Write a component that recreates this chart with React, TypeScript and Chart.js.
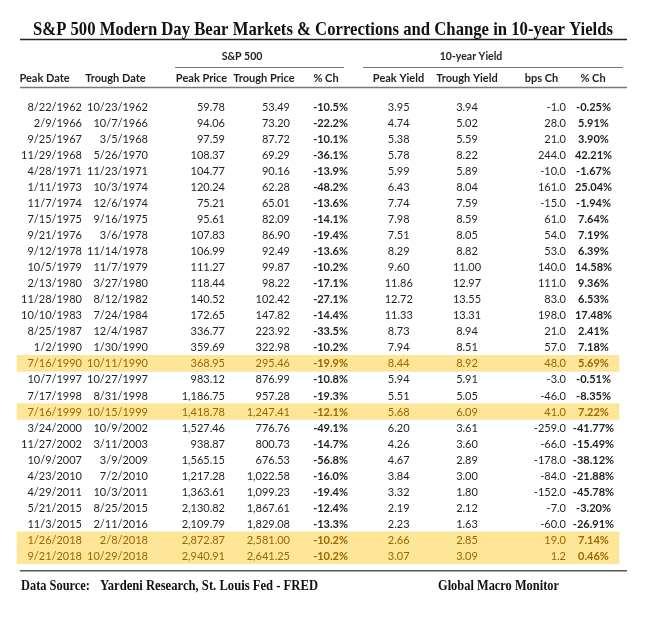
import React, { useEffect, useRef } from "react";
import { Chart, registerables } from "chart.js";

Chart.register(...registerables);

// ---------------- DATA ----------------
const title = "S&P 500 Modern Day Bear Markets & Corrections and Change in 10-year Yields";
const groupLabels = ["S&P 500", "10-year Yield"];
const columnHeaders = ["Peak Date", "Trough Date", "Peak Price", "Trough Price", "% Ch", "Peak Yield", "Trough Yield", "bps Ch", "% Ch"];

const peakDates = [
  "8/22/1962", "2/9/1966", "9/25/1967", "11/29/1968", "4/28/1971", "1/11/1973", "11/7/1974", "7/15/1975",
  "9/21/1976", "9/12/1978", "10/5/1979", "2/13/1980", "11/28/1980", "10/10/1983", "8/25/1987", "1/2/1990",
  "7/16/1990", "10/7/1997", "7/17/1998", "7/16/1999", "3/24/2000", "11/27/2002", "10/9/2007", "4/23/2010",
  "4/29/2011", "5/21/2015", "11/3/2015", "1/26/2018", "9/21/2018",
];
const troughDates = [
  "10/23/1962", "10/7/1966", "3/5/1968", "5/26/1970", "11/23/1971", "10/3/1974", "12/6/1974", "9/16/1975",
  "3/6/1978", "11/14/1978", "11/7/1979", "3/27/1980", "8/12/1982", "7/24/1984", "12/4/1987", "1/30/1990",
  "10/11/1990", "10/27/1997", "8/31/1998", "10/15/1999", "10/9/2002", "3/11/2003", "3/9/2009", "7/2/2010",
  "10/3/2011", "8/25/2015", "2/11/2016", "2/8/2018", "10/29/2018",
];
const peakPrices = [
  59.78, 94.06, 97.59, 108.37, 104.77, 120.24, 75.21, 95.61, 107.83, 106.99, 111.27, 118.44, 140.52, 172.65,
  336.77, 359.69, 368.95, 983.12, 1186.75, 1418.78, 1527.46, 938.87, 1565.15, 1217.28, 1363.61, 2130.82,
  2109.79, 2872.87, 2940.91,
];
const troughPrices = [
  53.49, 73.2, 87.72, 69.29, 90.16, 62.28, 65.01, 82.09, 86.9, 92.49, 99.87, 98.22, 102.42, 147.82, 223.92,
  322.98, 295.46, 876.99, 957.28, 1247.41, 776.76, 800.73, 676.53, 1022.58, 1099.23, 1867.61, 1829.08,
  2581.0, 2641.25,
];
const spPctChange = [
  -10.5, -22.2, -10.1, -36.1, -13.9, -48.2, -13.6, -14.1, -19.4, -13.6, -10.2, -17.1, -27.1, -14.4, -33.5,
  -10.2, -19.9, -10.8, -19.3, -12.1, -49.1, -14.7, -56.8, -16.0, -19.4, -12.4, -13.3, -10.2, -10.2,
];
const peakYields = [
  3.95, 4.74, 5.38, 5.78, 5.99, 6.43, 7.74, 7.98, 7.51, 8.29, 9.6, 11.86, 12.72, 11.33, 8.73, 7.94, 8.44,
  5.94, 5.51, 5.68, 6.2, 4.26, 4.67, 3.84, 3.32, 2.19, 2.23, 2.66, 3.07,
];
const troughYields = [
  3.94, 5.02, 5.59, 8.22, 5.89, 8.04, 7.59, 8.59, 8.05, 8.82, 11.0, 12.97, 13.55, 13.31, 8.94, 8.51, 8.92,
  5.91, 5.05, 6.09, 3.61, 3.6, 2.89, 3.0, 1.8, 2.12, 1.63, 2.85, 3.09,
];
const bpsChange = [
  -1.0, 28.0, 21.0, 244.0, -10.0, 161.0, -15.0, 61.0, 54.0, 53.0, 140.0, 111.0, 83.0, 198.0, 21.0, 57.0,
  48.0, -3.0, -46.0, 41.0, -259.0, -66.0, -178.0, -84.0, -152.0, -7.0, -60.0, 19.0, 1.2,
];
const yieldPctChange = [
  -0.25, 5.91, 3.9, 42.21, -1.67, 25.04, -1.94, 7.64, 7.19, 6.39, 14.58, 9.36, 6.53, 17.48, 2.41, 7.18,
  5.69, -0.51, -8.35, 7.22, -41.77, -15.49, -38.12, -21.88, -45.78, -3.2, -26.91, 7.14, 0.46,
];
const highlighted = [
  false, false, false, false, false, false, false, false, false, false, false, false, false, false, false,
  false, true, false, false, true, false, false, false, false, false, false, false, true, true,
];
const footerLabel = "Data Source:";
const footerSource = "Yardeni Research, St. Louis Fed - FRED";
const footerBrand = "Global Macro Monitor";

// ---------------- LAYOUT / STYLE ----------------
const W = 648;
const H = 620;
const ROW_TOP = 98.7;
const ROW_BOTTOM = 563.9;
const HIGHLIGHT_SPAN = [17, 619];
const TEXT = "#1f1f1f";
const HL_TEXT = "#9C6500";
const HL_FILL = "#FEE698";
const SANS = "Lato, 'Open Sans', sans-serif";
const SERIF = "'Liberation Serif', 'DejaVu Serif', serif";

const fmt2 = (v: number) => v.toLocaleString("en-US", { minimumFractionDigits: 2, maximumFractionDigits: 2 });
const fmt1 = (v: number) => v.toFixed(1);

type Col = { values: string[]; x: number; align: CanvasTextAlign; bold?: boolean };

const columns: Col[] = [
  { values: peakDates, x: 82, align: "right" },
  { values: troughDates, x: 148, align: "right" },
  { values: peakPrices.map(fmt2), x: 225, align: "right" },
  { values: troughPrices.map(fmt2), x: 290, align: "right" },
  { values: spPctChange.map((v) => v.toFixed(1) + "%"), x: 348, align: "right", bold: true },
  { values: peakYields.map(fmt2), x: 398.7, align: "center" },
  { values: troughYields.map(fmt2), x: 467, align: "center" },
  { values: bpsChange.map(fmt1), x: 566, align: "right" },
  { values: yieldPctChange.map((v) => v.toFixed(2) + "%"), x: 593.5, align: "center", bold: true },
];
const headerCenters = [44.5, 115.5, 201.5, 264, 326, 398.5, 467, 541.5, 593];
const groupCenters = [242, 471];
const groupLines = [[175, 344], [363, 623]];

function fitText(ctx: CanvasRenderingContext2D, text: string, x: number, y: number, width: number) {
  const m = ctx.measureText(text).width;
  ctx.save();
  ctx.translate(x, y);
  ctx.scale(width / m, 1);
  ctx.textAlign = "left";
  ctx.fillText(text, 0, 0);
  ctx.restore();
}

const tablePlugin = {
  id: "tableText",
  afterDatasetsDraw(chart: any) {
    const ctx: CanvasRenderingContext2D = chart.ctx;
    const xs = chart.scales.x;
    const ys = chart.scales.y;
    ctx.save();
    ctx.textBaseline = "middle";

    // title
    ctx.fillStyle = "#111";
    ctx.font = `bold 19.5px ${SERIF}`;
    fitText(ctx, title, xs.getPixelForValue(33), 29.5, 580);

    // lines
    const hline = (x0: number, x1: number, y: number, color: string, w: number) => {
      ctx.strokeStyle = color;
      ctx.lineWidth = w;
      ctx.beginPath();
      ctx.moveTo(xs.getPixelForValue(x0), y);
      ctx.lineTo(xs.getPixelForValue(x1), y);
      ctx.stroke();
    };
    hline(20, 627, 39.5, "#222", 1.5);
    groupLines.forEach(([a, b]) => hline(a, b, 67.5, "#777", 1.2));
    hline(20, 627, 87.5, "#777", 1.5);
    hline(20, 627, 570.7, "#555", 1.5);

    // group labels and headers
    ctx.fillStyle = TEXT;
    ctx.font = `bold 10.5px ${SANS}`;
    ctx.textAlign = "center";
    groupLabels.forEach((g, i) => ctx.fillText(g, xs.getPixelForValue(groupCenters[i]), 57));
    ctx.font = `bold 11px ${SANS}`;
    columnHeaders.forEach((h, i) => ctx.fillText(h, xs.getPixelForValue(headerCenters[i]), 78.5));

    // cells
    peakDates.forEach((_, r) => {
      const y = ys.getPixelForValue(r);
      ctx.fillStyle = highlighted[r] ? HL_TEXT : TEXT;
      columns.forEach((c) => {
        ctx.font = `${c.bold ? "bold " : ""}11px ${SANS}`;
        ctx.textAlign = c.align;
        ctx.fillText(c.values[r], xs.getPixelForValue(c.x), y + 0.5);
      });
    });

    // footer
    ctx.fillStyle = "#111";
    ctx.font = `bold 14px ${SERIF}`;
    fitText(ctx, footerLabel, xs.getPixelForValue(21), 586.5, 69);
    fitText(ctx, footerSource, xs.getPixelForValue(100), 586.5, 218);
    fitText(ctx, footerBrand, xs.getPixelForValue(438), 586.5, 121);
    ctx.restore();
  },
};

export default function App() {
  const ref = useRef<HTMLCanvasElement | null>(null);
  useEffect(() => {
    if (!ref.current) return;
    const chart = new Chart(ref.current, {
      type: "bar",
      data: {
        labels: peakDates,
        datasets: [
          {
            label: "highlight",
            data: highlighted.map((h) => (h ? HIGHLIGHT_SPAN : null)) as any,
            backgroundColor: HL_FILL,
            borderWidth: 0,
            barPercentage: 1,
            categoryPercentage: 1,
          },
        ],
      },
      options: {
        indexAxis: "y",
        animation: false,
        responsive: false,
        devicePixelRatio: 1,
        layout: { padding: { top: ROW_TOP, bottom: H - ROW_BOTTOM, left: 0, right: 0 } },
        plugins: { legend: { display: false }, tooltip: { enabled: false }, title: { display: false } },
        scales: {
          x: { type: "linear", min: 0, max: W, display: false },
          y: { type: "category", display: false, offset: true },
        },
      },
      plugins: [tablePlugin],
    });
    return () => chart.destroy();
  }, []);
  return (
    <div style={{ position: "fixed", left: 0, top: 0, width: W, height: H, background: "#fff" }}>
      <canvas ref={ref} width={W} height={H} style={{ width: W, height: H, display: "block" }} />
    </div>
  );
}
